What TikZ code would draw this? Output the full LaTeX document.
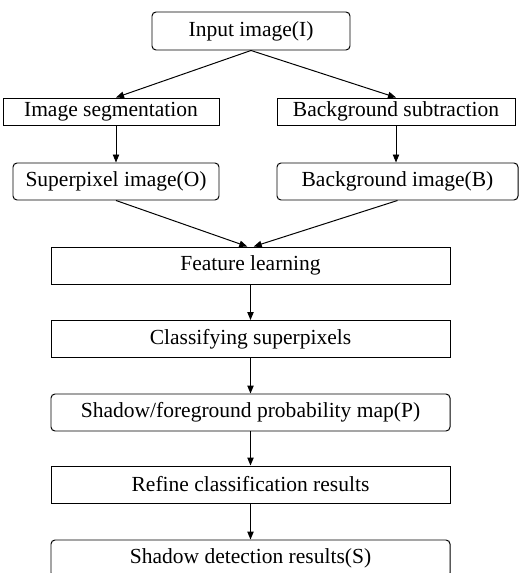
\documentclass[tikz,border=0pt]{standalone}
\usepackage{fontspec}
\setmainfont{Liberation Serif}
\usepackage{tikz}
\usetikzlibrary{arrows.meta,positioning,calc}

\begin{document}
\begin{tikzpicture}[
    every node/.style={font=\fontsize{15.3}{18}\selectfont, inner sep=0pt},
    stepbox/.style={rectangle, draw, line width=0.7pt, minimum height=0.925cm},
    roundbox/.style={rectangle, rounded corners=1mm, draw, line width=0.7pt, minimum height=0.925cm},
    arrow/.style={-{Triangle[length=2mm, width=1.6mm]}, line width=0.7pt}
]
    \useasboundingbox (0,0) rectangle (13.25,-14.325);

    \node[roundbox, minimum width=4.95cm, minimum height=0.95cm] (inp) at (6.275,-0.775) {Input image(I)};

    \node[stepbox, minimum width=5.4cm, minimum height=0.675cm] (seg) at (2.775,-2.7875) {Image segmentation};
    \node[stepbox, minimum width=5.95cm, minimum height=0.675cm] (sub) at (9.9,-2.7875) {Background subtraction};

    \node[roundbox, minimum width=5.15cm] (sup) at (2.9,-4.5375) {Superpixel image(O)};
    \node[roundbox, minimum width=6.025cm] (bgi) at (9.9375,-4.5375) {Background image(B)};

    \node[stepbox, minimum width=9.975cm] (feat) at (6.2625,-6.6375) {Feature learning};
    \node[stepbox, minimum width=9.975cm] (cls) at (6.2625,-8.475) {Classifying superpixels};
    \node[roundbox, minimum width=9.975cm] (prob) at (6.2625,-10.3125) {Shadow/foreground probability map(P)};
    \node[stepbox, minimum width=9.975cm] (ref) at (6.2625,-12.1125) {Refine classification results};
    \node[roundbox, minimum width=9.975cm] (res) at (6.2625,-13.9625) {Shadow detection results(S)};

    \draw[arrow] (inp.south) -- (seg.north -| sup.north);
    \draw[arrow] (inp.south) -- (sub.north);
    \draw[arrow] (seg.south -| sup.north) -- (sup.north);
    \draw[arrow] (sub.south) -- (sub.south |- bgi.north);

    \draw[arrow] (sup.south) -- ([xshift=-0.08cm]feat.north);
    \draw[arrow] (bgi.south) -- ([xshift=0.08cm]feat.north);

    \draw[arrow] (feat) -- (cls);
    \draw[arrow] (cls) -- (prob);
    \draw[arrow] (prob) -- (ref);
    \draw[arrow] (ref) -- (res);
\end{tikzpicture}
\end{document}
